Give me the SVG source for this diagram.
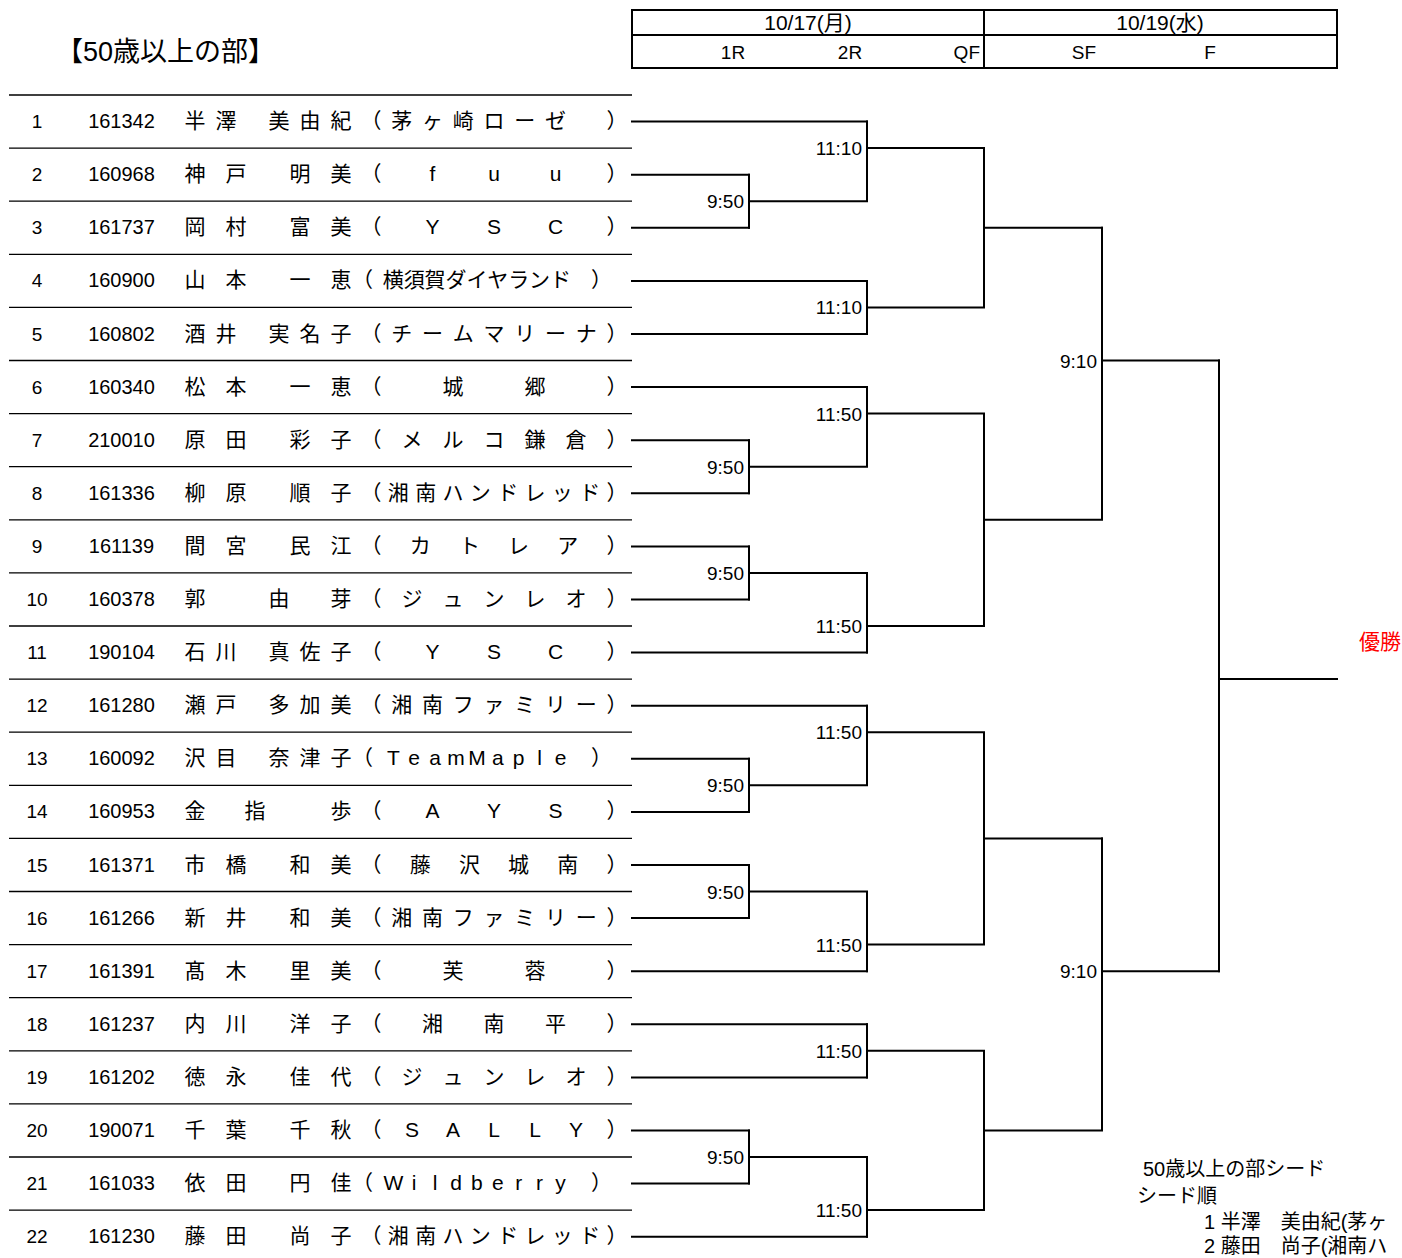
<svg xmlns="http://www.w3.org/2000/svg" width="1402" height="1258" viewBox="0 0 1402 1258">
<style>
text{font-family:"Liberation Sans","Noto Sans CJK JP",sans-serif;fill:#000}
.sep{stroke:#000;stroke-width:1.3;fill:none}
.br{fill:none;stroke:#000;stroke-width:2;stroke-linecap:square}
.box{fill:none;stroke:#000;stroke-width:2}
.num{font-size:19px;text-anchor:middle}
.id{font-size:20px;text-anchor:middle}
.jp{font-size:21px;text-anchor:middle;font-family:"Liberation Sans","Noto Sans CJK JP",sans-serif}
.t{font-size:19px;text-anchor:end}
.hd{font-size:21px;text-anchor:middle}
.hs{font-size:19px;text-anchor:middle}
.seed{font-size:20px}
</style>
<rect width="1402" height="1258" fill="#fff"/>
<g id="title"><text x="56" y="61" style="font-size:27px">【50歳以上の部】</text></g>
<g id="header">
<rect class="box" x="632" y="10" width="705" height="58"/>
<path class="box" d="M632 35H1337M984 10V68"/>
<text class="hd" x="808" y="30">10/17(月)</text>
<text class="hd" x="1160" y="30">10/19(水)</text>
<text class="hs" x="733" y="59">1R</text>
<text class="hs" x="850" y="59">2R</text>
<text class="hs" x="980" y="59" style="text-anchor:end">QF</text>
<text class="hs" x="1084" y="59">SF</text>
<text class="hs" x="1210" y="59">F</text>
</g>
<g id="separators">
<path class="sep" d="M9 95H632M9 148.1H632M9 201.2H632M9 254.3H632M9 307.4H632M9 360.5H632M9 413.6H632M9 466.7H632M9 519.8H632M9 572.9H632M9 626H632M9 679.1H632M9 732.2H632M9 785.3H632M9 838.4H632M9 891.5H632M9 944.6H632M9 997.7H632M9 1050.8H632M9 1103.9H632M9 1157H632M9 1210.1H632"/>
</g>
<g id="row1"><text class="num" x="37" y="128.1">1</text><text class="id" x="121.5" y="128.1">161342</text><text class="jp" x="195 226 279 310 341" y="128.1">半澤美由紀</text><text class="jp" x="371 401.8 432.5 463.3 494 524.8 555.5 617" y="128.1">（茅ヶ崎ローゼ）</text></g>
<g id="row2"><text class="num" x="37" y="181.2">2</text><text class="id" x="121.5" y="181.2">160968</text><text class="jp" x="195 236 300 341" y="181.2">神戸明美</text><text class="jp" x="371 432.5 494 555.5 617" y="181.2">（fuu）</text></g>
<g id="row3"><text class="num" x="37" y="234.3">3</text><text class="id" x="121.5" y="234.3">161737</text><text class="jp" x="195 236 300 341" y="234.3">岡村富美</text><text class="jp" x="371 432.5 494 555.5 617" y="234.3">（YSC）</text></g>
<g id="row4"><text class="num" x="37" y="287.4">4</text><text class="id" x="121.5" y="287.4">160900</text><text class="jp" x="195 236 300 341" y="287.4">山本一恵</text><text class="jp" x="362.6 393.3 414.2 435.1 456 476.9 497.8 518.7 539.6 560.5 601.4" y="287.4">（横須賀ダイヤランド）</text></g>
<g id="row5"><text class="num" x="37" y="340.5">5</text><text class="id" x="121.5" y="340.5">160802</text><text class="jp" x="195 226 279 310 341" y="340.5">酒井実名子</text><text class="jp" x="371 401.8 432.5 463.3 494 524.8 555.5 586.3 617" y="340.5">（チームマリーナ）</text></g>
<g id="row6"><text class="num" x="37" y="393.6">6</text><text class="id" x="121.5" y="393.6">160340</text><text class="jp" x="195 236 300 341" y="393.6">松本一恵</text><text class="jp" x="371 453 535 617" y="393.6">（城郷）</text></g>
<g id="row7"><text class="num" x="37" y="446.7">7</text><text class="id" x="121.5" y="446.7">210010</text><text class="jp" x="195 236 300 341" y="446.7">原田彩子</text><text class="jp" x="371 412 453 494 535 576 617" y="446.7">（メルコ鎌倉）</text></g>
<g id="row8"><text class="num" x="37" y="499.8">8</text><text class="id" x="121.5" y="499.8">161336</text><text class="jp" x="195 236 300 341" y="499.8">柳原順子</text><text class="jp" x="371 398.3 425.7 453 480.3 507.7 535 562.3 589.7 617" y="499.8">（湘南ハンドレッド）</text></g>
<g id="row9"><text class="num" x="37" y="552.9">9</text><text class="id" x="121.5" y="552.9">161139</text><text class="jp" x="195 236 300 341" y="552.9">間宮民江</text><text class="jp" x="371 420.2 469.4 518.6 567.8 617" y="552.9">（カトレア）</text></g>
<g id="row10"><text class="num" x="37" y="606">10</text><text class="id" x="121.5" y="606">160378</text><text class="jp" x="195 279 341" y="606">郭由芽</text><text class="jp" x="371 412 453 494 535 576 617" y="606">（ジュンレオ）</text></g>
<g id="row11"><text class="num" x="37" y="659.1">11</text><text class="id" x="121.5" y="659.1">190104</text><text class="jp" x="195 226 279 310 341" y="659.1">石川真佐子</text><text class="jp" x="371 432.5 494 555.5 617" y="659.1">（YSC）</text></g>
<g id="row12"><text class="num" x="37" y="712.2">12</text><text class="id" x="121.5" y="712.2">161280</text><text class="jp" x="195 226 279 310 341" y="712.2">瀬戸多加美</text><text class="jp" x="371 401.8 432.5 463.3 494 524.8 555.5 586.3 617" y="712.2">（湘南ファミリー）</text></g>
<g id="row13"><text class="num" x="37" y="765.3">13</text><text class="id" x="121.5" y="765.3">160092</text><text class="jp" x="195 226 279 310 341" y="765.3">沢目奈津子</text><text class="jp" x="362.6 393.3 414.2 435.1 456 476.9 497.8 518.7 539.6 560.5 601.4" y="765.3">（TeamMaple）</text></g>
<g id="row14"><text class="num" x="37" y="818.4">14</text><text class="id" x="121.5" y="818.4">160953</text><text class="jp" x="195 255 341" y="818.4">金指歩</text><text class="jp" x="371 432.5 494 555.5 617" y="818.4">（AYS）</text></g>
<g id="row15"><text class="num" x="37" y="871.5">15</text><text class="id" x="121.5" y="871.5">161371</text><text class="jp" x="195 236 300 341" y="871.5">市橋和美</text><text class="jp" x="371 420.2 469.4 518.6 567.8 617" y="871.5">（藤沢城南）</text></g>
<g id="row16"><text class="num" x="37" y="924.6">16</text><text class="id" x="121.5" y="924.6">161266</text><text class="jp" x="195 236 300 341" y="924.6">新井和美</text><text class="jp" x="371 401.8 432.5 463.3 494 524.8 555.5 586.3 617" y="924.6">（湘南ファミリー）</text></g>
<g id="row17"><text class="num" x="37" y="977.7">17</text><text class="id" x="121.5" y="977.7">161391</text><text class="jp" x="195 236 300 341" y="977.7">髙木里美</text><text class="jp" x="371 453 535 617" y="977.7">（芙蓉）</text></g>
<g id="row18"><text class="num" x="37" y="1030.8">18</text><text class="id" x="121.5" y="1030.8">161237</text><text class="jp" x="195 236 300 341" y="1030.8">内川洋子</text><text class="jp" x="371 432.5 494 555.5 617" y="1030.8">（湘南平）</text></g>
<g id="row19"><text class="num" x="37" y="1083.9">19</text><text class="id" x="121.5" y="1083.9">161202</text><text class="jp" x="195 236 300 341" y="1083.9">徳永佳代</text><text class="jp" x="371 412 453 494 535 576 617" y="1083.9">（ジュンレオ）</text></g>
<g id="row20"><text class="num" x="37" y="1137">20</text><text class="id" x="121.5" y="1137">190071</text><text class="jp" x="195 236 300 341" y="1137">千葉千秋</text><text class="jp" x="371 412 453 494 535 576 617" y="1137">（SALLY）</text></g>
<g id="row21"><text class="num" x="37" y="1190.1">21</text><text class="id" x="121.5" y="1190.1">161033</text><text class="jp" x="195 236 300 341" y="1190.1">依田円佳</text><text class="jp" x="362.6 393.3 414.2 435.1 456 476.9 497.8 518.7 539.6 560.5 601.4" y="1190.1">（Wildberry）</text></g>
<g id="row22"><text class="num" x="37" y="1243.2">22</text><text class="id" x="121.5" y="1243.2">161230</text><text class="jp" x="195 236 300 341" y="1243.2">藤田尚子</text><text class="jp" x="371 398.3 425.7 453 480.3 507.7 535 562.3 589.7 617" y="1243.2">（湘南ハンドレッド）</text></g>
<g id="connectors">
<path class="br" d="M632 121.6H867M632 174.7H749M632 227.8H749M632 280.9H867M632 334H867M632 387.1H867M632 440.2H749M632 493.3H749M632 546.4H749M632 599.5H749M632 652.6H867M632 705.7H867M632 758.8H749M632 811.9H749M632 865H749M632 918.1H749M632 971.2H867M632 1024.3H867M632 1077.4H867M632 1130.5H749M632 1183.6H749M632 1236.7H867"/>
<path class="br" d="M749 174.7V227.8M749 201.2H867M867 121.6V201.2M867 148.1H984M867 280.9V334M867 307.4H984M984 148.1V307.4M984 227.8H1102"/>
<path class="br" d="M749 440.2V493.3M749 466.7H867M867 387.1V466.7M867 413.6H984M749 546.4V599.5M749 572.9H867M867 572.9V652.6M867 626H984M984 413.6V626M984 519.8H1102M1102 227.8V519.8M1102 360.5H1219"/>
<path class="br" d="M749 758.8V811.9M749 785.3H867M867 705.7V785.3M867 732.2H984M749 865V918.1M749 891.5H867M867 891.5V971.2M867 944.6H984M984 732.2V944.6M984 838.4H1102"/>
<path class="br" d="M867 1024.3V1077.4M867 1050.8H984M749 1130.5V1183.6M749 1157H867M867 1157V1236.7M867 1210.1H984M984 1050.8V1210.1M984 1130.5H1102M1102 838.4V1130.5M1102 971.2H1219"/>
<path class="br" d="M1219 360.5V971.2M1219 679.1H1337"/>
</g>
<g id="times">
<text class="t" x="744" y="208.2">9:50</text>
<text class="t" x="862" y="155.1">11:10</text>
<text class="t" x="862" y="314.4">11:10</text>
<text class="t" x="744" y="473.7">9:50</text>
<text class="t" x="862" y="420.6">11:50</text>
<text class="t" x="744" y="579.9">9:50</text>
<text class="t" x="862" y="633">11:50</text>
<text class="t" x="1097" y="367.5">9:10</text>
<text class="t" x="744" y="792.3">9:50</text>
<text class="t" x="862" y="739.2">11:50</text>
<text class="t" x="744" y="898.5">9:50</text>
<text class="t" x="862" y="951.6">11:50</text>
<text class="t" x="862" y="1057.8">11:50</text>
<text class="t" x="744" y="1164">9:50</text>
<text class="t" x="862" y="1217.1">11:50</text>
<text class="t" x="1097" y="978.2">9:10</text>
</g>
<g id="winner"><text x="1359" y="649" style="font-size:21px;fill:#ff0000">優勝</text></g>
<g id="seeds">
<text class="seed" x="1143" y="1176">50歳以上の部シード</text>
<text class="seed" x="1137" y="1203">シード順</text>
<text class="seed" x="1204" y="1229">1 半澤　美由紀(茅ヶ</text>
<text class="seed" x="1204" y="1253">2 藤田　尚子(湘南ハ</text>
</g>
</svg>
